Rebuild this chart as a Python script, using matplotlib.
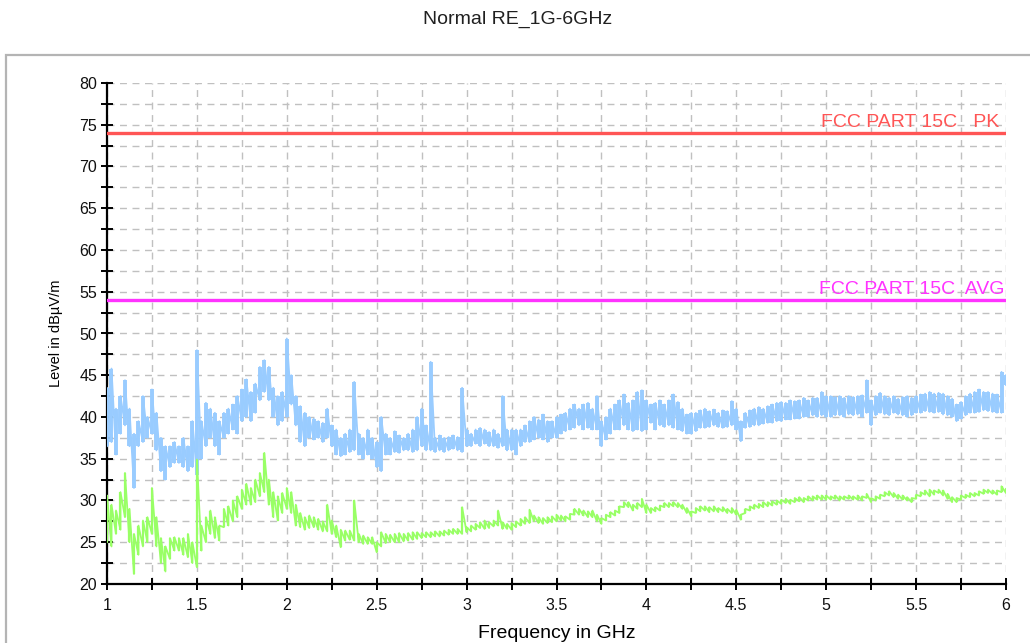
import numpy as np
import matplotlib
matplotlib.use("Agg")
import matplotlib.pyplot as plt
from matplotlib.patches import Rectangle
from matplotlib.ticker import MultipleLocator

plt.rcParams["font.family"] = ["Liberation Sans", "DejaVu Sans"]

# frequency grid of the readings (GHz), 0.025 GHz step from 1 to 6
freq_ghz = np.linspace(1.0, 6.0, 201)

# peak trace, min / max of the noisy band at each frequency (dBuV/m)
peak_lo = [
    36.5, 37.0, 35.5, 38.0, 39.0, 36.5, 31.5, 36.5, 37.0, 37.5,
    38.0, 36.0, 33.5, 32.5, 34.0, 34.5, 34.5, 34.0, 33.5, 34.0,
    33.0, 35.0, 36.5, 37.5, 36.5, 35.5, 37.5, 38.0, 38.5, 38.0,
    39.5, 40.0, 39.5, 40.5, 42.0, 43.0, 42.0, 40.0, 39.0, 39.5,
    40.0, 41.5, 39.0, 37.0, 36.5, 37.5, 37.3, 37.5, 37.0, 37.5,
    36.5, 35.5, 35.3, 35.5, 35.8, 36.0, 35.5, 35.0, 35.5, 35.0,
    34.0, 33.5, 35.5, 35.5, 35.8, 35.7, 36.0, 36.0, 35.8, 36.0,
    36.5, 36.0, 36.0, 35.8, 36.0, 35.8, 36.0, 36.2, 36.0, 35.8,
    36.5, 36.5, 36.8, 36.5, 36.8, 36.5, 36.5, 36.3, 36.5, 36.0,
    36.0, 35.5, 36.5, 37.0, 37.0, 37.3, 37.5, 37.3, 37.0, 37.5,
    37.5, 38.0, 38.3, 38.5, 38.7, 39.0, 38.5, 38.7, 38.5, 38.5,
    36.5, 37.3, 38.0, 38.5, 38.5, 39.0, 38.5, 38.3, 38.5, 38.3,
    38.5, 39.3, 38.5, 39.0, 38.8, 39.0, 38.7, 38.5, 38.3, 38.0,
    38.0, 38.3, 38.7, 38.7, 38.8, 39.0, 38.8, 38.7, 38.8, 39.0,
    38.5, 37.1, 38.7, 38.8, 39.0, 39.0, 39.2, 39.3, 39.3, 39.5,
    39.5, 39.7, 39.7, 39.8, 39.8, 40.0, 40.0, 40.2, 40.0, 40.2,
    40.0, 40.0, 40.2, 40.2, 40.0, 40.3, 40.2, 40.3, 40.0, 40.5,
    39.0, 40.2, 40.5, 40.3, 40.2, 40.5, 40.3, 40.2, 40.0, 40.2,
    40.5, 40.5, 40.7, 40.6, 40.5, 40.6, 40.3, 40.2, 40.0, 39.5,
    39.8, 40.2, 40.5, 40.5, 40.6, 40.8, 40.7, 40.6, 40.5, 40.5,
    43.8,
]
peak_hi = [
    43.5, 45.8, 41.0, 42.5, 44.4, 41.0, 38.0, 39.5, 42.5, 40.0,
    43.3, 40.5, 37.5, 36.5, 36.5, 37.0, 36.5, 37.5, 36.5, 39.5,
    48.0, 39.5, 41.7, 41.0, 40.5, 39.5, 40.5, 41.0, 41.5, 42.5,
    43.3, 44.5, 43.0, 44.0, 46.0, 46.8, 46.0, 43.5, 42.5, 43.0,
    49.4, 45.0, 42.5, 41.3, 40.5, 40.0, 39.8, 39.5, 39.3, 41.0,
    39.0, 38.5, 37.5, 38.0, 38.5, 44.2, 38.0, 37.5, 38.5, 37.5,
    37.0, 40.0, 38.0, 37.5, 38.3, 37.8, 37.5, 38.0, 38.5, 40.0,
    41.0, 39.0, 46.6, 37.5, 37.8, 37.5, 37.6, 37.8, 37.6, 43.5,
    38.5, 38.0, 38.5, 38.7, 38.5, 38.2, 38.5, 38.0, 42.5, 38.5,
    38.5, 38.5, 38.5, 39.0, 39.5, 40.0, 39.7, 40.3, 39.5, 39.5,
    40.0, 40.3, 40.5, 41.0, 41.5, 41.0, 41.5, 41.7, 41.0, 42.5,
    39.5, 40.0, 41.0, 41.5, 42.0, 42.7, 41.7, 42.0, 43.0, 43.2,
    42.0, 41.5, 41.7, 42.0, 41.5, 42.0, 42.7, 41.8, 41.0, 40.3,
    40.5, 40.5, 40.8, 41.0, 40.7, 40.9, 40.5, 40.8, 40.7, 41.9,
    41.0, 39.5, 40.5, 40.8, 41.0, 41.2, 41.0, 41.3, 41.5, 41.7,
    41.8, 41.7, 42.0, 41.9, 42.0, 42.3, 42.0, 42.3, 42.3, 43.0,
    42.5, 42.5, 42.4, 42.5, 42.3, 42.5, 42.4, 42.5, 42.6, 44.4,
    42.0, 42.5, 42.9, 42.5, 42.3, 42.5, 42.2, 42.4, 42.5, 42.3,
    42.5, 42.7, 42.8, 43.0, 42.8, 42.9, 42.8, 42.5, 42.2, 41.5,
    41.8, 42.5, 42.8, 43.0, 43.3, 43.0, 43.0, 42.8, 42.7, 45.4,
    45.0,
]

# average trace, min / max at each frequency (dBuV/m)
avg_lo = [
    25.0, 24.5, 26.0, 26.5, 28.0, 25.0, 21.2, 23.5, 24.5, 25.0,
    26.0, 24.5, 22.5, 21.5, 23.0, 24.0, 24.0, 23.5, 23.2, 22.5,
    22.0, 24.0, 25.0, 26.0, 25.5, 25.2, 26.8, 27.0, 27.5, 28.0,
    29.0, 29.5, 29.5, 29.8, 30.5, 31.0, 29.5, 28.0, 27.6, 28.5,
    29.0, 28.5, 27.0, 26.8, 26.5, 26.7, 26.8, 26.5, 26.3, 26.3,
    26.0, 25.6, 24.4, 25.2, 25.3, 25.2, 25.0, 24.8, 24.8, 24.8,
    23.8, 24.5, 24.9, 25.0, 25.0, 25.0, 25.1, 25.2, 25.3, 25.4,
    25.5, 25.6, 25.6, 25.7, 25.7, 25.8, 25.9, 26.0, 26.0, 26.0,
    26.2, 26.3, 26.5, 26.7, 26.6, 26.7, 26.9, 27.0, 26.6, 26.6,
    26.5, 26.8, 27.0, 27.2, 27.3, 27.5, 27.3, 27.2, 27.3, 27.4,
    27.5, 27.6, 27.5, 27.7, 28.3, 28.3, 28.2, 28.0, 28.0, 27.5,
    27.2, 27.6, 28.0, 28.2, 28.5, 29.2, 29.2, 28.8, 29.0, 29.2,
    28.5, 28.5, 28.7, 28.8, 29.2, 29.2, 29.3, 29.2, 29.0, 28.5,
    28.1, 28.5, 28.7, 28.8, 28.6, 28.7, 28.6, 28.7, 28.5, 28.5,
    28.3, 27.7, 28.5, 28.8, 29.0, 29.1, 29.2, 29.3, 29.4, 29.5,
    29.6, 29.7, 29.6, 29.8, 29.9, 29.8, 30.0, 30.0, 30.1, 30.1,
    30.1, 30.1, 30.2, 30.0, 30.1, 30.2, 30.1, 30.1, 30.0, 30.3,
    29.8, 30.0, 30.2, 30.5, 30.6, 30.4, 30.2, 30.1, 30.0, 29.8,
    30.2, 30.5, 30.7, 30.5, 30.7, 30.9, 30.6, 30.2, 29.8, 29.8,
    30.1, 30.3, 30.4, 30.5, 30.6, 30.8, 30.9, 30.8, 30.7, 31.0,
    30.9,
]
avg_hi = [
    30.6, 29.5, 28.8, 31.0, 33.3, 29.0, 26.0, 27.0, 27.6, 28.0,
    31.5, 28.0, 25.5, 24.5, 25.5, 25.6, 25.5, 25.5, 26.0, 25.0,
    34.9, 27.0, 28.0, 28.8, 28.0, 27.0, 29.0, 29.3, 30.0, 30.5,
    31.3, 32.0, 31.5, 32.5, 33.3, 35.7, 32.5, 31.0, 30.5, 30.9,
    31.5, 31.0, 29.5, 28.5, 28.0, 28.2, 28.0, 27.8, 27.5, 29.5,
    27.6, 27.0, 26.5, 26.4, 26.4, 30.0, 26.0, 25.8, 25.6, 25.6,
    25.0, 26.2, 26.0, 25.9, 26.0, 26.1, 26.0, 26.1, 26.2, 26.2,
    26.1, 26.2, 26.2, 26.3, 26.3, 26.4, 26.5, 26.6, 26.6, 29.2,
    26.8, 27.0, 27.2, 27.4, 27.6, 27.4, 27.6, 28.8, 27.4, 27.2,
    27.3, 27.5, 27.8, 28.0, 28.9, 28.2, 28.0, 27.9, 28.0, 28.1,
    28.3, 28.2, 28.1, 28.4, 29.0, 29.0, 28.8, 28.7, 28.8, 28.3,
    27.9, 28.3, 28.6, 28.8, 29.3, 29.8, 29.8, 29.5, 29.7, 30.2,
    29.5, 29.1, 29.2, 29.4, 29.7, 29.7, 29.8, 29.7, 29.5, 29.1,
    28.7, 29.1, 29.3, 29.3, 29.2, 29.3, 29.1, 29.2, 29.0, 29.1,
    28.9, 28.3, 29.0, 29.3, 29.5, 29.6, 29.8, 29.8, 29.9, 30.0,
    30.1, 30.2, 30.1, 30.3, 30.4, 30.3, 30.5, 30.5, 30.6, 30.6,
    30.6, 30.5, 30.6, 30.5, 30.5, 30.6, 30.5, 30.6, 30.5, 30.8,
    30.3, 30.5, 30.7, 31.0, 31.1, 30.9, 30.7, 30.6, 30.4, 30.3,
    30.7, 31.0, 31.2, 31.3, 31.2, 31.3, 31.2, 30.8, 30.4, 30.3,
    30.6, 30.7, 30.9, 30.9, 31.1, 31.3, 31.3, 31.2, 31.2, 31.7,
    31.4,
]

limit_pk = 74.0
limit_avg = 54.0
limit_pk_label = "FCC PART 15C   PK"
limit_avg_label = "FCC PART 15C  AVG"


def draw_band(ax, freq, lo, hi, color, bar_width):
    # vertical stroke per reading, plus a line walking lo->hi->next lo
    ax.vlines(freq, lo, hi, color=color, linewidth=bar_width, zorder=3)
    x = np.repeat(freq, 2)
    y = np.column_stack([lo, hi]).ravel()
    ax.plot(x, y, color=color, linewidth=1.3, zorder=3)


fig = plt.figure(figsize=(10.30, 6.43), dpi=100)
fig.patches.append(Rectangle((6 / 1030, -0.05), 1.1, 0.05 + 1 - 55 / 643,
                             transform=fig.transFigure, fill=False,
                             edgecolor="#b4b4b4", linewidth=1.6))
fig.text(518 / 1030, 1 - 19 / 643, "Normal RE_1G-6GHz", ha="center", va="center",
         fontsize=14, color="#202020")

ax = fig.add_axes([107 / 1030, 1 - 584 / 643, 899 / 1030, 501 / 643])
ax.set_xlim(1, 6)
ax.set_ylim(20, 80)

ax.xaxis.set_major_locator(MultipleLocator(0.5))
ax.xaxis.set_minor_locator(MultipleLocator(0.25))
ax.yaxis.set_major_locator(MultipleLocator(5))
ax.yaxis.set_minor_locator(MultipleLocator(2.5))
ax.xaxis.set_major_formatter(plt.FuncFormatter(lambda v, p: f"{v:g}"))
ax.grid(True, which="both", color="#c0c0c0", linestyle=(0, (5, 4)), linewidth=1.0)
ax.set_axisbelow(True)

for side in ("top", "right"):
    ax.spines[side].set_visible(False)
for side in ("left", "bottom"):
    ax.spines[side].set_linewidth(1.6)
    ax.spines[side].set_color("black")

ax.tick_params(which="both", direction="inout", length=8, width=1.4, color="black",
               labelsize=11.5, labelcolor="#101010")
ax.tick_params(axis="y", pad=3)
ax.tick_params(axis="x", pad=6)

draw_band(ax, freq_ghz, peak_lo, peak_hi, "#99ccff", 2.8)
draw_band(ax, freq_ghz, avg_lo, avg_hi, "#99ff66", 1.6)

ax.axhline(limit_pk, color="#ff5555", linewidth=2.4, zorder=4)
ax.axhline(limit_avg, color="#ff33ff", linewidth=2.4, zorder=4)
ax.text(5.96, limit_pk + 0.3, limit_pk_label, color="#ff5555", ha="right", va="bottom",
        fontsize=14, zorder=5)
ax.text(5.99, limit_avg + 0.3, limit_avg_label, color="#ff33ff", ha="right", va="bottom",
        fontsize=14, zorder=5)

ax.set_xlabel("Frequency in GHz", fontsize=14, labelpad=9)
ax.set_ylabel("Level in dBµV/m", fontsize=10.5, labelpad=12)

fig.savefig("out.png", dpi=100)
